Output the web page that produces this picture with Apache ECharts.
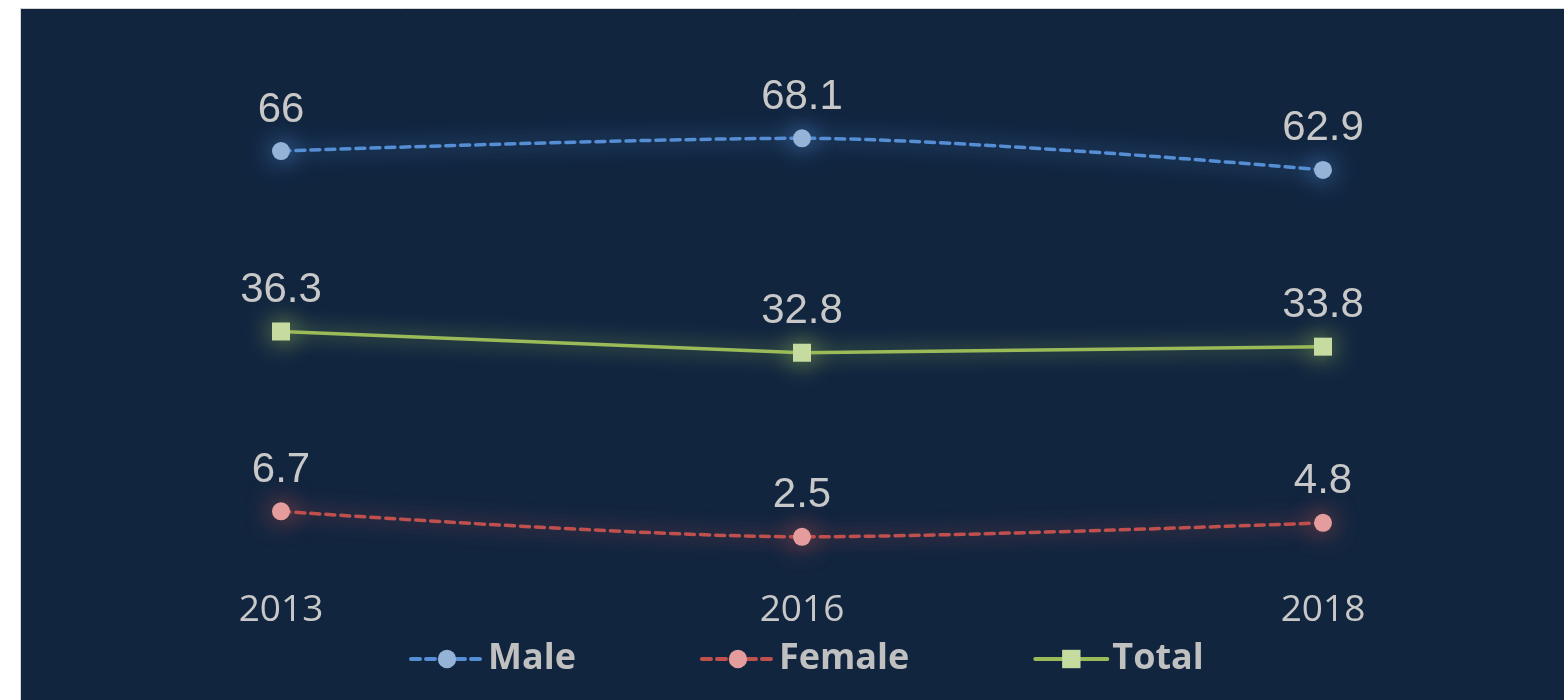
<!DOCTYPE html>
<html>
<head>
<meta charset="utf-8">
<script src="https://cdn.jsdelivr.net/npm/echarts@6/dist/echarts.min.js"></script>
<style>
  html, body { margin: 0; padding: 0; background: #ffffff; }
  #linechart { width: 1564px; height: 700px; }
</style>
</head>
<body>
<div id="linechart"></div>
<script>
var years = ['2013', '2016', '2018'];
var male = [66, 68.1, 62.9];
var female = [6.7, 2.5, 4.8];
var total = [36.3, 32.8, 33.8];

var labelFont = {
    show: true,
    position: 'top',
    distance: 11,
    color: '#c8c8c8',
    fontSize: 42,
    fontFamily: 'Liberation Sans'
};

function makeSeries(name, data, line, fill, symbol, dashed, smooth) {
    return {
        name: name,
        type: 'line',
        data: data,
        smooth: smooth,
        symbol: symbol,
        symbolSize: 18,
        lineStyle: {
            color: line,
            width: 3.5,
            type: dashed ? [9, 6] : 'solid',
            cap: 'round',
            shadowColor: line,
            shadowBlur: 20
        },
        itemStyle: {
            color: fill,
            borderWidth: 0,
            shadowColor: line,
            shadowBlur: 26
        },
        label: labelFont,
        emphasis: {disabled: true}
    };
}

var linechart = echarts.init(document.getElementById('linechart'));
linechart.setOption({
    animation: false,
    graphic: {
        elements: [
            {
                type: 'rect',
                z: -10,
                silent: true,
                shape: {x: 20.5, y: 8.5, width: 1600, height: 800},
                style: {fill: '#11253f', stroke: '#d4d4d4', lineWidth: 1}
            }
        ]
    },
    grid: {
        left: 281,
        right: 241,
        top: 66,
        bottom: 148
    },
    legend: {
        left: 404,
        top: 636,
        itemWidth: 72,
        itemHeight: 23,
        itemGap: 124,
        lineStyle: {width: 4, shadowBlur: 0},
        itemStyle: {shadowBlur: 0},
        textStyle: {
            color: '#c0c0c0',
            fontSize: 36,
            fontWeight: 'bold',
            fontFamily: 'Open Sans'
        },
        data: ['Male', 'Female', 'Total']
    },
    xAxis: {
        type: 'category',
        boundaryGap: false,
        data: years,
        axisLine: {show: false},
        axisTick: {show: false},
        splitLine: {show: false},
        axisLabel: {
            margin: 40,
            color: '#c8c8c8',
            fontSize: 37,
            fontFamily: 'Open Sans'
        }
    },
    yAxis: {
        type: 'value',
        min: 0,
        max: 80,
        show: false,
        splitLine: {show: false}
    },
    series: [
        makeSeries('Male', male, '#558ed5', '#95b3d7', 'circle', true, 0.3),
        makeSeries('Female', female, '#c0504d', '#e49c9c', 'circle', true, 0.3),
        makeSeries('Total', total, '#9bbb59', '#c6dba0', 'rect', false, false)
    ]
});
</script>
</body>
</html>
